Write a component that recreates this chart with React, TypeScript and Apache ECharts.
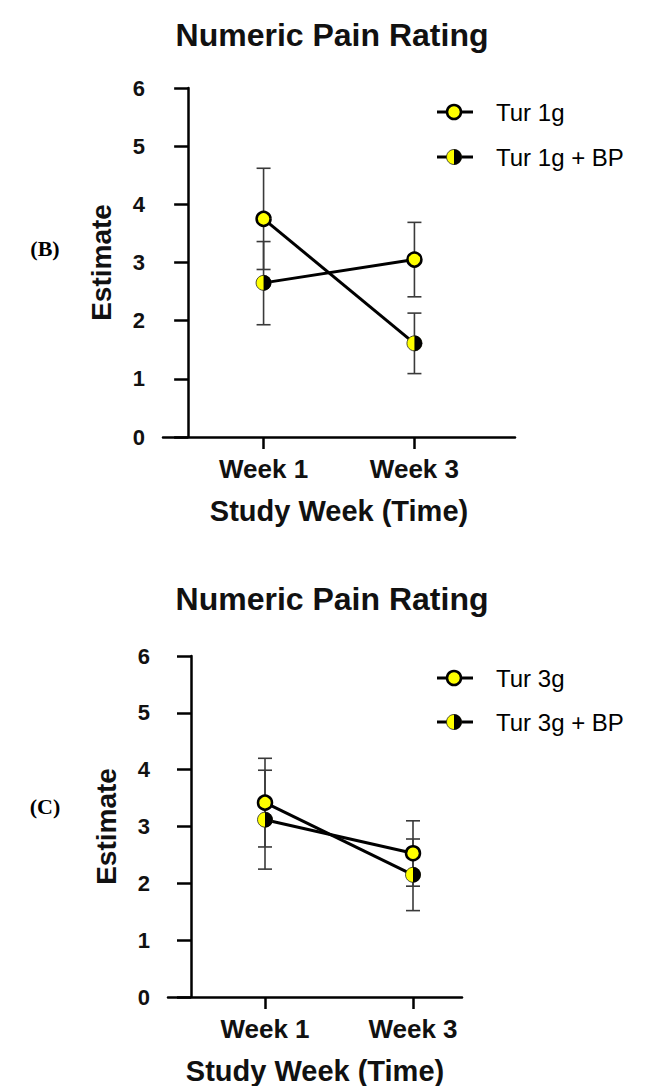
import React, { useEffect, useRef } from "react";
import * as echarts from "echarts";

// ---------- data ----------
const weekValues = [1, 3];
const weekLabels = ["Week 1", "Week 3"];
const yTicks = [0, 1, 2, 3, 4, 5, 6];

// Panel B
const bLegend = ["Tur 1g", "Tur 1g + BP"];
const bFullMean = [3.75, 3.05];
const bFullLow = [2.88, 2.41];
const bFullHigh = [4.62, 3.69];
const bHalfMean = [2.65, 1.61];
const bHalfLow = [1.93, 1.09];
const bHalfHigh = [3.36, 2.13];

// Panel C
const cLegend = ["Tur 3g", "Tur 3g + BP"];
const cFullMean = [3.42, 2.53];
const cFullLow = [2.64, 1.95];
const cFullHigh = [4.2, 3.1];
const cHalfMean = [3.12, 2.15];
const cHalfLow = [2.25, 1.52];
const cHalfHigh = [3.99, 2.78];

const YELLOW = "#ffff00";
const FONT = "'Liberation Sans', Arial, sans-serif";

function buildPoints(mean: number[], low: number[], high: number[], kind: number) {
  return weekValues.map((w, i) => [w, mean[i], low[i], high[i], kind]);
}

function markerShapes(cx: number, cy: number, kind: number, r: number) {
  if (kind === 0) {
    return [
      { type: "circle", shape: { cx, cy, r }, style: { fill: YELLOW, stroke: "#000", lineWidth: 2.5 } },
    ];
  }
  return [
    { type: "circle", shape: { cx, cy, r: r + 0.5 }, style: { fill: YELLOW, stroke: "#222", lineWidth: 0.8 } },
    {
      type: "sector",
      shape: { cx, cy, r0: 0, r: r + 0.8, startAngle: -Math.PI / 2, endAngle: Math.PI / 2, clockwise: true },
      style: { fill: "#000" },
    },
  ];
}

function panelSeries(idx: number, full: number[][], half: number[][]) {
  const pts = [...full, ...half];
  const errSeries = {
    type: "custom",
    xAxisIndex: idx,
    yAxisIndex: idx,
    z: 1,
    data: pts,
    encode: { x: 0, y: 1 },
    renderItem: (params: any, api: any) => {
      const x = api.value(0);
      const lo = api.coord([x, api.value(2)]);
      const hi = api.coord([x, api.value(3)]);
      const st = { stroke: "#3a3a3a", lineWidth: 1.6 };
      return {
        type: "group",
        children: [
          { type: "line", shape: { x1: lo[0], y1: lo[1], x2: hi[0], y2: hi[1] }, style: st },
          { type: "line", shape: { x1: lo[0] - 7, y1: lo[1], x2: lo[0] + 7, y2: lo[1] }, style: st },
          { type: "line", shape: { x1: hi[0] - 7, y1: hi[1], x2: hi[0] + 7, y2: hi[1] }, style: st },
        ],
      };
    },
  };
  // connecting lines as drawn: full marker at week 1 -> half marker at week 3, half at week 1 -> full at week 3
  const lineA = [
    [full[0][0], full[0][1]],
    [half[1][0], half[1][1]],
  ];
  const lineB = [
    [half[0][0], half[0][1]],
    [full[1][0], full[1][1]],
  ];
  const lineStyle = { color: "#000", width: 3 };
  const lines = [lineA, lineB].map((d) => ({
    type: "line",
    xAxisIndex: idx,
    yAxisIndex: idx,
    z: 2,
    symbol: "none",
    lineStyle,
    data: d,
  }));
  const markers = {
    type: "custom",
    xAxisIndex: idx,
    yAxisIndex: idx,
    z: 3,
    data: pts,
    encode: { x: 0, y: 1 },
    renderItem: (params: any, api: any) => {
      const p = api.coord([api.value(0), api.value(1)]);
      return { type: "group", children: markerShapes(p[0], p[1], api.value(4), 7) };
    },
  };
  return [errSeries, ...lines, markers];
}

function legendGraphic(labels: string[], x: number, y0: number, gap: number) {
  return labels.map((lab, i) => {
    const y = y0 + i * gap;
    return {
      type: "group",
      children: [
        { type: "line", shape: { x1: x - 17, y1: y, x2: x + 19, y2: y }, style: { stroke: "#000", lineWidth: 3 } },
        ...markerShapes(x, y, i, 7),
        {
          type: "text",
          x: x + 42,
          y,
          style: { text: lab, font: `24px ${FONT}`, fill: "#000", verticalAlign: "middle", align: "left" },
        },
      ],
    };
  });
}

function xAxisCfg(idx: number, min: number, max: number) {
  return {
    type: "value",
    gridIndex: idx,
    min,
    max,
    splitLine: { show: false },
    axisLine: { show: true, onZero: false, lineStyle: { color: "#000", width: 2.5 } },
    axisTick: { show: true, customValues: weekValues, length: 12, lineStyle: { color: "#000", width: 2.5 } },
    axisLabel: {
      customValues: weekValues,
      formatter: (v: number) => weekLabels[weekValues.indexOf(Math.round(v))] ?? "",
      fontFamily: FONT,
      fontWeight: "bold",
      fontSize: 26,
      color: "#111",
      margin: 19,
    },
    name: "Study Week (Time)",
    nameLocation: "middle",
    nameGap: 59,
    nameTextStyle: { fontFamily: FONT, fontWeight: "bold", fontSize: 29, color: "#111" },
  };
}

function yAxisCfg(idx: number) {
  return {
    type: "value",
    gridIndex: idx,
    min: yTicks[0],
    max: yTicks[yTicks.length - 1],
    interval: 1,
    splitLine: { show: false },
    axisLine: { show: true, lineStyle: { color: "#000", width: 2.5 } },
    axisTick: { show: true, length: 14, lineStyle: { color: "#000", width: 2.5 } },
    axisLabel: { fontFamily: FONT, fontWeight: "bold", fontSize: 22, color: "#111", margin: 18 },
    name: "Estimate",
    nameLocation: "middle",
    nameRotate: 90,
    nameGap: 48,
    nameTextStyle: { fontFamily: FONT, fontWeight: "bold", fontSize: 28, color: "#111" },
  };
}

export default function App() {
  const ref = useRef<HTMLDivElement>(null);
  useEffect(() => {
    document.body.style.margin = "0";
    const chart = echarts.init(ref.current!, null, { renderer: "svg" });
    const bFull = buildPoints(bFullMean, bFullLow, bFullHigh, 0);
    const bHalf = buildPoints(bHalfMean, bHalfLow, bHalfHigh, 1);
    const cFull = buildPoints(cFullMean, cFullLow, cFullHigh, 0);
    const cHalf = buildPoints(cHalfMean, cHalfLow, cHalfHigh, 1);
    chart.setOption({
      animation: false,
      backgroundColor: "#fff",
      title: [
        {
          text: "Numeric Pain Rating",
          left: 327,
          top: 14,
          textAlign: "center",
          textStyle: { fontFamily: FONT, fontWeight: "bold", fontSize: 32, color: "#111" },
        },
        {
          text: "Numeric Pain Rating",
          left: 327,
          top: 578,
          textAlign: "center",
          textStyle: { fontFamily: FONT, fontWeight: "bold", fontSize: 32, color: "#111" },
        },
      ],
      grid: [
        { left: 163, top: 88, width: 352, height: 349, containLabel: false },
        { left: 168, top: 656, width: 294, height: 341, containLabel: false },
      ],
      xAxis: [xAxisCfg(0, -1 / 3, 13 / 3), xAxisCfg(1, 1 - 97 / 74, 3 + 49 / 74)],
      yAxis: [yAxisCfg(0), yAxisCfg(1)],
      series: [...panelSeries(0, bFull, bHalf), ...panelSeries(1, cFull, cHalf)],
      graphic: [
        ...legendGraphic(bLegend, 454, 112, 45),
        ...legendGraphic(cLegend, 454, 678, 44),
        {
          type: "text",
          x: 45,
          y: 248,
          style: { text: "(B)", font: "bold 22px 'Liberation Serif', serif", fill: "#000", align: "center", verticalAlign: "middle" },
        },
        {
          type: "text",
          x: 45,
          y: 806,
          style: { text: "(C)", font: "bold 22px 'Liberation Serif', serif", fill: "#000", align: "center", verticalAlign: "middle" },
        },
      ],
    });
    return () => chart.dispose();
  }, []);
  return <div ref={ref} style={{ width: 650, height: 1086 }} />;
}
